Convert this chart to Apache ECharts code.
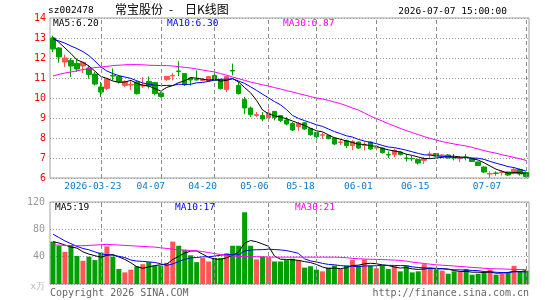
<!DOCTYPE html>
<html>
<head>
<meta charset="utf-8">
<title>常宝股份 - 日K线图</title>
<script src="https://cdn.jsdelivr.net/npm/echarts@6.0.0/dist/echarts.min.js"></script>
<style>
  html, body { margin: 0; padding: 0; background: #fff; }
  #chart { width: 545px; height: 300px; }
</style>
</head>
<body>
<div id="chart"></div>
<script>
// 交易日
const dates = [
  '2026-03-11', '2026-03-12', '2026-03-13', '2026-03-16', '2026-03-17', '2026-03-18', '2026-03-19', '2026-03-20',
  '2026-03-23', '2026-03-24', '2026-03-25', '2026-03-26', '2026-03-27', '2026-03-30', '2026-03-31', '2026-04-01',
  '2026-04-02', '2026-04-03', '2026-04-07', '2026-04-08', '2026-04-09', '2026-04-10', '2026-04-13', '2026-04-14',
  '2026-04-15', '2026-04-16', '2026-04-17', '2026-04-20', '2026-04-21', '2026-04-22', '2026-04-23', '2026-04-24',
  '2026-04-27', '2026-04-28', '2026-04-29', '2026-04-30', '2026-05-06', '2026-05-07', '2026-05-08', '2026-05-11',
  '2026-05-12', '2026-05-13', '2026-05-14', '2026-05-15', '2026-05-18', '2026-05-19', '2026-05-20', '2026-05-21',
  '2026-05-22', '2026-05-25', '2026-05-26', '2026-05-27', '2026-05-28', '2026-05-29', '2026-06-01', '2026-06-02',
  '2026-06-03', '2026-06-04', '2026-06-05', '2026-06-08', '2026-06-09', '2026-06-10', '2026-06-11', '2026-06-12',
  '2026-06-15', '2026-06-16', '2026-06-17', '2026-06-18', '2026-06-22', '2026-06-23', '2026-06-24', '2026-06-25',
  '2026-06-26', '2026-06-29', '2026-06-30', '2026-07-01', '2026-07-02', '2026-07-03', '2026-07-06', '2026-07-07'
]

// K线：开盘 / 收盘 / 最低 / 最高
const openPrices = [
  13.0, 12.5, 11.8, 11.88, 11.73, 11.6, 11.5, 11.2, 10.55, 10.48,
  11.13, 11.08, 10.63, 10.65, 10.8, 10.6, 10.83, 10.77, 10.25, 10.93,
  11.1, 11.35, 11.22, 11.0, 10.93, 10.88, 10.85, 11.13, 10.92, 10.42,
  11.38, 10.63, 9.92, 9.5, 9.13, 9.12, 9.02, 9.33, 9.12, 8.9,
  8.72, 8.57, 8.76, 8.47, 8.28, 8.14, 8.13, 8.0, 7.78, 7.88,
  7.62, 7.8, 7.63, 7.8, 7.5, 7.5, 7.17, 7.17, 7.3, 7.0,
  6.98, 6.92, 6.88, 7.18, 7.22, 7.13, 7.15, 7.02, 6.97, 7.05,
  6.97, 6.8, 6.55, 6.2, 6.25, 6.28, 6.3, 6.22, 6.43, 6.27
]
const closePrices = [
  12.45, 12.05, 12.0, 11.6, 11.45, 11.78, 11.18, 10.7, 10.3, 10.95,
  11.1, 10.83, 10.83, 10.68, 10.22, 10.65, 10.6, 10.22, 10.08, 11.08,
  11.13, 11.33, 10.67, 10.9, 10.9, 10.92, 11.07, 10.88, 10.47, 11.07,
  11.35, 10.22, 9.5, 9.17, 9.17, 8.95, 9.25, 9.02, 8.88, 8.7,
  8.4, 8.72, 8.45, 8.17, 8.06, 8.16, 7.97, 7.7, 7.8, 7.62,
  7.82, 7.5, 7.66, 7.45, 7.52, 7.27, 7.15, 7.38, 7.17, 6.98,
  6.96, 6.75, 6.97, 7.2, 7.1, 7.15, 7.0, 7.0, 7.0, 7.03,
  6.83, 6.63, 6.3, 6.22, 6.23, 6.3, 6.15, 6.43, 6.2, 6.08
]
const lowPrices = [
  12.3, 11.77, 11.55, 11.05, 11.3, 11.25, 10.97, 10.63, 10.05, 10.4,
  10.88, 10.72, 10.55, 10.4, 10.17, 10.5, 10.47, 10.13, 10.02, 10.85,
  10.88, 11.1, 10.6, 10.62, 10.88, 10.83, 10.82, 10.88, 10.42, 10.3,
  11.13, 10.17, 9.19, 9.05, 9.05, 8.84, 8.97, 8.88, 8.8, 8.63,
  8.35, 8.35, 8.4, 8.1, 7.98, 7.95, 7.93, 7.65, 7.65, 7.5,
  7.4, 7.45, 7.38, 7.4, 7.38, 7.22, 7.0, 7.05, 7.13, 6.82,
  6.85, 6.67, 6.7, 6.97, 7.07, 7.05, 6.97, 6.88, 6.8, 6.88,
  6.8, 6.6, 6.25, 6.0, 6.12, 6.12, 6.1, 6.18, 6.12, 6.03
]
const highPrices = [
  13.12, 12.55, 12.17, 12.0, 11.97, 11.82, 11.63, 11.3, 10.8, 10.98,
  11.48, 11.13, 10.88, 10.88, 10.88, 11.05, 11.08, 10.8, 10.3, 11.1,
  11.25, 11.83, 11.25, 11.03, 11.38, 11.0, 11.1, 11.33, 10.92, 11.12,
  11.72, 10.8, 10.05, 9.58, 9.3, 9.3, 9.47, 9.33, 9.15, 9.05,
  8.8, 8.8, 8.8, 8.5, 8.3, 8.28, 8.15, 8.02, 7.93, 7.92,
  7.9, 7.82, 7.83, 7.83, 7.63, 7.52, 7.33, 7.47, 7.33, 7.2,
  7.1, 6.97, 7.05, 7.33, 7.25, 7.2, 7.2, 7.2, 7.1, 7.2,
  7.0, 6.83, 6.6, 6.33, 6.33, 6.38, 6.32, 6.5, 6.47, 6.3
]

// 均线
const ma5 = [
  13.02, 12.78, 12.5, 12.22, 11.91, 11.78, 11.6, 11.34, 11.08, 10.98,
  10.85, 10.78, 10.8, 10.88, 10.73, 10.64, 10.6, 10.47, 10.35, 10.53,
  10.62, 10.77, 10.86, 11.02, 10.99, 10.94, 10.89, 10.93, 10.85, 10.88,
  10.97, 10.8, 10.52, 10.26, 9.88, 9.4, 9.21, 9.11, 9.05, 8.96,
  8.85, 8.74, 8.63, 8.49, 8.36, 8.31, 8.16, 8.01, 7.94, 7.85,
  7.78, 7.69, 7.68, 7.61, 7.59, 7.48, 7.41, 7.35, 7.3, 7.19,
  7.13, 7.05, 6.97, 6.97, 7.0, 7.03, 7.08, 7.09, 7.05, 7.04,
  6.97, 6.9, 6.76, 6.6, 6.44, 6.34, 6.24, 6.27, 6.26, 6.23
]
const ma10 = [
  12.95, 12.85, 12.74, 12.6, 12.47, 12.32, 12.12, 11.85, 11.55, 11.35,
  11.22, 11.12, 11.05, 10.98, 10.86, 10.75, 10.69, 10.64, 10.62, 10.63,
  10.63, 10.69, 10.67, 10.69, 10.76, 10.78, 10.83, 10.9, 10.94, 10.94,
  10.96, 10.85, 10.73, 10.56, 10.38, 10.19, 10.01, 9.82, 9.66, 9.42,
  9.13, 8.98, 8.87, 8.77, 8.66, 8.58, 8.45, 8.32, 8.22, 8.11,
  8.05, 7.93, 7.85, 7.78, 7.72, 7.63, 7.55, 7.52, 7.46, 7.39,
  7.31, 7.23, 7.16, 7.14, 7.1, 7.08, 7.07, 7.03, 7.01, 7.02,
  7.0, 6.99, 6.93, 6.83, 6.74, 6.66, 6.57, 6.52, 6.43, 6.34
]
const ma30 = [
  11.1, 11.18, 11.25, 11.3, 11.36, 11.42, 11.47, 11.52, 11.55, 11.58,
  11.62, 11.64, 11.66, 11.67, 11.67, 11.66, 11.64, 11.63, 11.62, 11.62,
  11.6, 11.57, 11.53, 11.5, 11.45, 11.4, 11.35, 11.3, 11.22, 11.14,
  11.05, 10.97, 10.88, 10.8, 10.73, 10.66, 10.6, 10.52, 10.45, 10.37,
  10.3, 10.22, 10.15, 10.07, 10.0, 9.95, 9.88, 9.8, 9.72, 9.62,
  9.5, 9.4, 9.25, 9.1, 8.97, 8.85, 8.72, 8.6, 8.48, 8.37,
  8.27, 8.17, 8.07, 7.98, 7.9, 7.82, 7.76, 7.7, 7.65, 7.6,
  7.53, 7.45, 7.37, 7.3, 7.24, 7.16, 7.1, 7.03, 6.96, 6.88
]

// 成交量（万手）及均量
const volumes = [
  62, 56, 47, 57, 41, 34, 40, 35, 46, 55,
  40, 22, 17, 21, 26, 29, 32, 27, 27, 31,
  62, 56, 50, 42, 32, 38, 33, 38, 38, 45,
  56, 56, 105, 56, 36, 40, 39, 33, 33, 35,
  37, 35, 24, 26, 21, 18.5, 24, 27, 22, 27,
  35, 27, 36, 27, 23, 27, 22, 26, 18.5, 27,
  17, 18.5, 29, 24, 21, 19.5, 15, 18.5, 17.5, 22,
  13.6, 15, 16, 21, 13.6, 15, 17.5, 26.5, 18.5, 19.5
]
const volMa5 = [
  62, 60, 57, 54, 52.6, 47, 43.8, 41.4, 39.2, 42,
  43.2, 39.6, 36, 31, 25.2, 23, 25, 27, 28.2, 29.2,
  35.8, 40.6, 45.2, 48.2, 48.4, 43.6, 39, 36.6, 35.8, 38.4,
  42, 46.6, 60, 63.6, 61.8, 58.6, 55.2, 40.8, 36.2, 36,
  35.4, 34.6, 32.8, 31.4, 28.6, 24.9, 22.7, 23.3, 22.5, 23.7,
  27, 27.6, 29.4, 30.4, 29.6, 28, 27, 25, 23.3, 24.1,
  22.1, 21.4, 22, 23.1, 21.9, 22.4, 21.7, 19.6, 18.3, 18.5,
  17.3, 17.3, 16.8, 17.5, 15.8, 16.1, 16.6, 18.7, 18.2, 19.4
]
const volMa10 = [
  73, 68, 63, 59, 55, 52, 50, 47, 44, 43,
  42, 40.5, 38.7, 35.1, 33.6, 33.1, 32.3, 31.5, 29.6, 27.2,
  29.4, 32.8, 36.1, 38.2, 38.8, 39.7, 39.8, 40.9, 42, 43.4,
  42.8, 42.8, 48.3, 49.7, 50.1, 50.3, 50.9, 50.4, 49.9, 48.9,
  47, 44.9, 36.8, 33.8, 32.3, 30.2, 28.7, 28.1, 27, 26.2,
  26, 25.2, 26.4, 26.5, 26.7, 27.5, 27.3, 27.2, 26.9, 26.9,
  25.1, 24.2, 23.5, 23.2, 23, 22.3, 21.6, 20.8, 20.7, 20.2,
  19.9, 19.5, 18.2, 17.9, 17.2, 16.7, 17, 17.8, 17.9, 17.6
]
const volMa30 = [
  57, 57, 56.5, 56, 56, 56, 56.5, 57, 57.5, 58,
  57.5, 57, 56.5, 56, 55.5, 55, 54.5, 54, 53, 52,
  51, 50, 49.5, 49, 48.5, 47.5, 46, 44.5, 43, 42,
  41, 40.5, 40, 40, 40, 39.8, 39.5, 39.3, 39.3, 39.3,
  39.3, 39.3, 39.3, 39.3, 39.3, 39.3, 39.3, 39.3, 39, 38.5,
  37.5, 37, 36.5, 36.2, 36, 35.7, 35.4, 35, 34.5, 33.5,
  32, 31, 30, 29, 28, 27.5, 27, 26.3, 25.7, 25,
  24.3, 23.7, 23, 22.5, 22.2, 22, 21.7, 21.4, 21.2, 21
]

// 横轴刻度（日期下标）和标签
const tickIndex = [8, 18, 27, 36, 44, 54, 64, 79]
const tickLabels = ['2026-03-23', '04-07', '04-20', '05-06', '05-18', '06-01', '06-15', '07-07']

// 样式
const UP = '#ff5555'
const DOWN = '#00a000'
const MONO = '"DejaVu Sans Mono", "Liberation Mono", monospace'
const CJK = '"Noto Sans CJK SC", sans-serif'
// 新浪图的日期标签略微偏左，最后一个被挤回框内
const labelShift = [8, 10, 12, 14, 16, 18, 21, 39]

const candleData = dates.map((d, i) => [openPrices[i], closePrices[i], lowPrices[i], highPrices[i]])
const volData = volumes.map((v, i) => ({
  value: v,
  itemStyle: { color: closePrices[i] >= openPrices[i] ? UP : DOWN }
}))

const labelRich = {}
tickIndex.forEach((idx, k) => {
  labelRich['t' + idx] = { padding: [0, labelShift[k] * 2, 0, 0] }
})

const isTick = (index) => tickIndex.includes(index)
const hLineStyle = { type: [1, 2], color: '#9a9a9a', width: 1 }
const vLineStyle = { type: [4, 3], color: '#8c8c8c', width: 1 }

// 刻度日期处的竖向虚线（标记线，按类目下标定位）
const vMark = {
  silent: true,
  symbol: 'none',
  label: { show: false },
  lineStyle: vLineStyle,
  data: tickIndex.map(i => ({ xAxis: i }))
}

const maLine = (name, data, color, xi, yi) => ({
  name: name,
  type: 'line',
  xAxisIndex: xi,
  yAxisIndex: yi,
  data: data,
  symbol: 'none',
  lineStyle: { width: 1, color: color },
  z: 3
})

const txt = (x, y, text, fill, size, align, family) => ({
  type: 'text',
  x: x,
  y: y,
  z: 100,
  style: {
    text: text,
    fill: fill,
    font: size + 'px ' + (family || MONO),
    align: align || 'left',
    verticalAlign: 'middle'
  }
})

const chart = echarts.init(document.getElementById('chart'))

chart.setOption({
  animation: false,
  grid: [
    { left: 50, top: 18, width: 479, height: 160, show: true, borderColor: '#a0a0a0', borderWidth: 1 },
    { left: 50, top: 202, width: 479, height: 82, show: true, borderColor: '#a0a0a0', borderWidth: 1 }
  ],
  xAxis: [
    {
      type: 'category',
      gridIndex: 0,
      data: dates,
      axisLine: { show: false },
      axisTick: { show: false },
      splitLine: { show: false },
      axisLabel: {
        interval: isTick,
        formatter: (value, index) => {
          const k = tickIndex.indexOf(index)
          return k < 0 ? '' : '{t' + index + '|' + tickLabels[k] + '}'
        },
        color: '#0a7ccc',
        fontFamily: MONO,
        fontSize: 9.5,
        margin: 4,
        rich: labelRich
      }
    },
    {
      type: 'category',
      gridIndex: 1,
      data: dates,
      axisLine: { show: false },
      axisTick: { show: false },
      axisLabel: { show: false },
      splitLine: { show: false }
    }
  ],
  yAxis: [
    {
      type: 'value',
      gridIndex: 0,
      min: 6,
      max: 14,
      interval: 1,
      axisLine: { show: false },
      axisTick: { show: false },
      axisLabel: { color: '#ff0000', fontFamily: MONO, fontSize: 10, margin: 4 },
      splitLine: { show: true, lineStyle: hLineStyle }
    },
    {
      type: 'value',
      gridIndex: 1,
      min: 0,
      max: 120,
      interval: 40,
      axisLine: { show: false },
      axisTick: { show: false },
      axisLabel: {
        color: '#999999',
        fontFamily: MONO,
        fontSize: 10,
        margin: 5,
        formatter: (v) => v === 0 ? '{u|x万}' : String(v),
        rich: { u: { color: '#b8b8b8', fontSize: 9, padding: [6, 0, 0, 0] } }
      },
      splitLine: { show: true, lineStyle: hLineStyle }
    }
  ],
  series: [
    {
      name: 'K',
      type: 'candlestick',
      xAxisIndex: 0,
      yAxisIndex: 0,
      data: candleData,
      barWidth: 5,
      itemStyle: { color: UP, color0: DOWN, borderColor: UP, borderColor0: DOWN, borderWidth: 1 },
      markLine: vMark
    },
    maLine('MA5', ma5, '#000000', 0, 0),
    maLine('MA10', ma10, '#0000ff', 0, 0),
    maLine('MA30', ma30, '#ff00ff', 0, 0),
    {
      name: 'VOL',
      type: 'bar',
      xAxisIndex: 1,
      yAxisIndex: 1,
      data: volData,
      barWidth: 5,
      markLine: vMark
    },
    maLine('VMA5', volMa5, '#000000', 1, 1),
    maLine('VMA10', volMa10, '#0000ff', 1, 1),
    maLine('VMA30', volMa30, '#ff00ff', 1, 1)
  ],
  graphic: [
    txt(48, 10.5, 'sz002478', '#000', 9.5),
    txt(115, 9.5, '常宝股份', '#000', 12, 'left', CJK),
    txt(171, 9.5, '-', '#000', 12, 'center', CJK),
    txt(185, 9.5, '日K线图', '#000', 12, 'left', CJK),
    txt(507, 11.5, '2026-07-07 15:00:00', '#000', 9.5, 'right'),
    txt(53, 24, 'MA5:6.20', '#000', 9.5),
    txt(167, 24, 'MA10:6.30', '#0000ff', 9.5),
    txt(283, 24, 'MA30:6.87', '#ff00ff', 9.5),
    txt(55, 208, 'MA5:19', '#000', 9.5),
    txt(175, 208, 'MA10:17', '#0000ff', 9.5),
    txt(295, 208, 'MA30:21', '#ff00ff', 9.5),
    txt(50, 293, 'Copyright 2026 SINA.COM', '#666', 10),
    txt(529, 293, 'http://finance.sina.com.cn', '#666', 10, 'right')
  ]
})
</script>
</body>
</html>
